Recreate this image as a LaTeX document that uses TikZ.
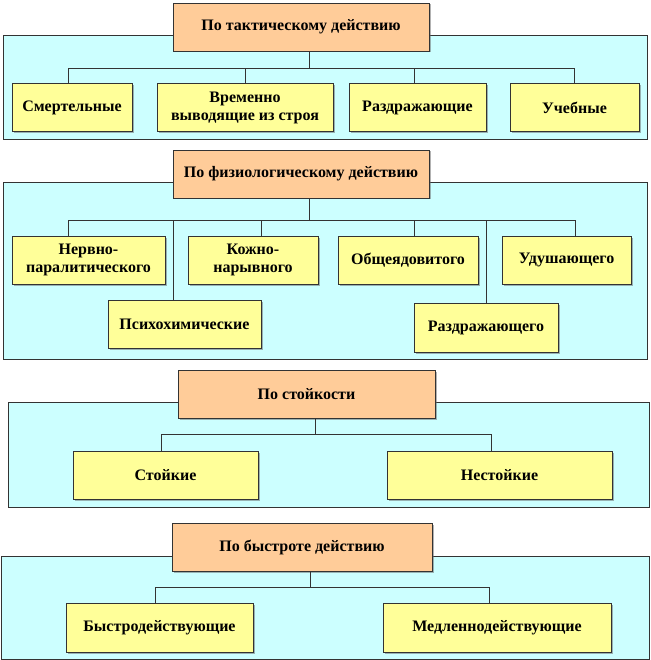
\documentclass[tikz,border=0pt]{standalone}
\usepackage{fontspec}
\setmainfont{Liberation Serif}
\usetikzlibrary{shadows}
\definecolor{peach}{HTML}{FFCC99}
\definecolor{lemon}{HTML}{FFFF99}
\definecolor{aqua}{HTML}{CCFFFF}
\begin{document}
\begin{tikzpicture}[x=1pt,y=-1pt,line width=.6pt,
    panel/.style={draw=black!80,fill=aqua},
    box/.style={draw=black!80,inner sep=0pt,align=center,
      font=\bfseries\fontsize{16}{18}\selectfont,
      drop shadow={shadow xshift=1.5pt,shadow yshift=-1.5pt,fill=black!60}},
    hdr/.style={box,fill=peach,minimum height=48pt},
    leaf/.style={box,fill=lemon,minimum height=48pt},
    link/.style={draw=black!80}]
  \useasboundingbox (0,0) rectangle (650,660);
  % по тактическому действию
  \draw[panel] (3,35) rectangle (647,139);
  \node[hdr,minimum width=256pt] (h1) at (301,27) {По тактическому действию};
  \node[leaf,minimum width=120pt] (t1) at (72,107.5) {Смертельные};
  \node[leaf,minimum width=176pt] (t2) at (245,107.5) {Временно\\выводящие из строя};
  \node[leaf,minimum width=137pt] (t3) at (417.5,107.5) {Раздражающие};
  \node[leaf,minimum width=129pt] (t4) at (574.5,107.5) {Учебные};
  \coordinate (b1) at (309,68);
  \draw[link] (b1 |- h1.south) -- (b1);
  \draw[link] (b1) -| ([xshift=-4pt]t1.north);
  \draw[link] (b1) -| (t2.north);
  \draw[link] (b1) -| ([xshift=-3.5pt]t3.north);
  \draw[link] (b1) -| (t4.north);
  % по физиологическому действию
  \draw[panel] (3,182) rectangle (647,359);
  \node[hdr,minimum width=256pt] (h2) at (301,174) {По физиологическому действию};
  \node[leaf,minimum width=153pt] (f1) at (88.5,260) {Нервно-\\паралитического};
  \node[leaf,minimum width=130pt] (f2) at (253,260) {Кожно-\\нарывного};
  \node[leaf,minimum width=140pt] (f3) at (408,260) {Общеядовитого};
  \node[leaf,minimum width=129pt] (f4) at (566.5,260) {Удушающего};
  \node[leaf,minimum width=153pt] (f5) at (184.5,324) {Психохимические};
  \node[leaf,minimum width=144pt,minimum height=49pt] (f6) at (486,327.5) {Раздражающего};
  \coordinate (b2) at (309,220);
  \draw[link] (b2 |- h2.south) -- (b2);
  \draw[link] (b2) -| ([xshift=-20.5pt]f1.north);
  \draw[link] (b2) -| ([xshift=8pt]f2.north);
  \draw[link] (b2) -| ([xshift=6pt]f3.north);
  \draw[link] (b2) -| ([xshift=8.5pt]f4.north);
  \draw[link] (b2) -| ([xshift=-11.5pt]f5.north);
  \draw[link] (b2) -| (f6.north);
  % по стойкости
  \draw[panel] (8,402) rectangle (649,507);
  \node[hdr,minimum width=257pt] (h3) at (306.5,394) {По стойкости};
  \node[leaf,minimum width=185pt] (s1) at (165.5,475) {Стойкие};
  \node[leaf,minimum width=225pt] (s2) at (499.5,475) {Нестойкие};
  \coordinate (b3) at (315,434);
  \draw[link] (b3 |- h3.south) -- (b3);
  \draw[link] (b3) -| ([xshift=-4.5pt]s1.north);
  \draw[link] (b3) -| ([xshift=-8.5pt]s2.north);
  % по быстроте действию
  \draw[panel] (1,556) rectangle (649,659);
  \node[hdr,minimum width=260pt] (h4) at (302,547) {По быстроте действию};
  \node[leaf,minimum width=187pt,minimum height=49pt] (r1) at (159.5,627.5) {Быстродействующие};
  \node[leaf,minimum width=228pt,minimum height=49pt] (r2) at (497,627.5) {Медленнодействующие};
  \coordinate (b4) at (310,587);
  \draw[link] (b4 |- h4.south) -- (b4);
  \draw[link] (b4) -| ([xshift=-4.5pt]r1.north);
  \draw[link] (b4) -| ([xshift=-8pt]r2.north);
\end{tikzpicture}
\end{document}
